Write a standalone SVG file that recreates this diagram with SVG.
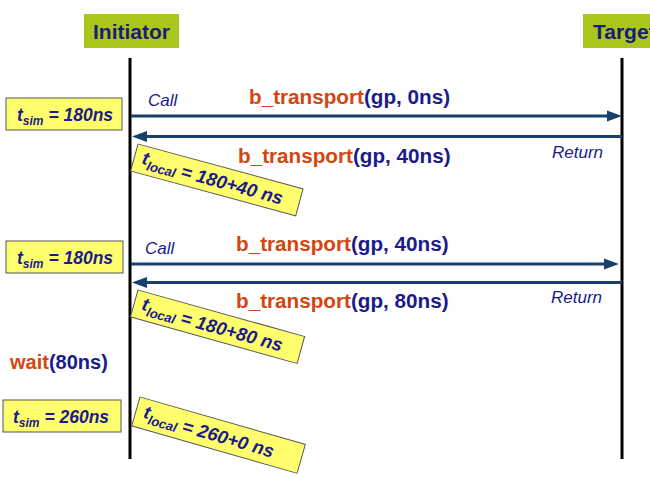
<svg xmlns="http://www.w3.org/2000/svg" width="650" height="478" viewBox="0 0 650 478">
<style>
.hdr{fill:#a9c61b}
.hl{font-family:"Liberation Sans",Arial,sans-serif;font-weight:bold;font-size:21px;fill:#1b1b7a}
.life{stroke:#000;stroke-width:3}
.msg{stroke:#17406d;stroke-width:3}
.head{fill:#17406d}
.fn{font-family:"Liberation Sans",Arial,sans-serif;font-weight:bold;font-size:20.7px}
.or{fill:#d2470f}
.nv{fill:#1b1b8a}
.it{font-family:"Liberation Sans",Arial,sans-serif;font-style:italic;font-size:17px;fill:#1b1b8a}
.note{fill:#ffff6e;stroke:#555;stroke-width:1}
.nt{font-family:"Liberation Sans",Arial,sans-serif;font-style:italic;font-weight:bold;font-size:17.5px;fill:#1b1b8a}
.lt{font-family:"Liberation Sans",Arial,sans-serif;font-style:italic;font-weight:bold;font-size:18.5px;fill:#1b1b8a}
.sub{font-size:12px}
.lsub{font-size:13px}
</style>
<rect width="650" height="478" fill="#fff"/>
<g id="initiator">
<rect class="hdr" x="84" y="14" width="95" height="34"/>
<text class="hl" x="131.5" y="39" text-anchor="middle">Initiator</text>
<line class="life" x1="130" y1="58" x2="130" y2="459"/>
</g>
<g id="target">
<rect class="hdr" x="583" y="14" width="70" height="34"/>
<text class="hl" x="593" y="39">Target</text>
<line class="life" x1="622" y1="58" x2="622" y2="459"/>
</g>
<g id="connectors">
<line class="msg" x1="131" y1="116" x2="610" y2="116"/>
<polygon class="head" points="622,116 607,110.5 607,121.5"/>
<line class="msg" x1="622" y1="136.5" x2="144" y2="136.5"/>
<polygon class="head" points="132,136.5 147,131 147,142"/>
<line class="msg" x1="131" y1="264" x2="606" y2="264"/>
<polygon class="head" points="619,264 604,258.5 604,269.5"/>
<line class="msg" x1="622" y1="282.5" x2="144" y2="282.5"/>
<polygon class="head" points="132,282.5 147,277 147,288"/>
</g>
<g id="labels">
<text class="it" x="148" y="106">Call</text>
<text class="fn" x="249" y="104"><tspan class="or">b_transport</tspan><tspan class="nv">(gp, 0ns)</tspan></text>
<text class="fn" x="238" y="163"><tspan class="or">b_transport</tspan><tspan class="nv">(gp, 40ns)</tspan></text>
<text class="it" x="552" y="158">Return</text>
<text class="it" x="145" y="254">Call</text>
<text class="fn" x="236" y="251"><tspan class="or">b_transport</tspan><tspan class="nv">(gp, 40ns)</tspan></text>
<text class="fn" x="236" y="308"><tspan class="or">b_transport</tspan><tspan class="nv">(gp, 80ns)</tspan></text>
<text class="it" x="551" y="303">Return</text>
<text class="fn" x="10" y="369" style="font-size:20px"><tspan class="or">wait</tspan><tspan class="nv">(80ns)</tspan></text>
</g>
<g id="tsim1">
<rect class="note" x="6" y="98" width="116" height="32"/>
<text class="nt" x="17" y="121">t<tspan class="sub" dy="4">sim</tspan><tspan dy="-4"> = 180ns</tspan></text>
</g>
<g id="tsim2">
<rect class="note" x="6" y="241" width="117" height="32"/>
<text class="nt" x="17" y="264">t<tspan class="sub" dy="4">sim</tspan><tspan dy="-4"> = 180ns</tspan></text>
</g>
<g id="tsim3">
<rect class="note" x="3" y="400" width="118" height="32"/>
<text class="nt" x="13" y="423">t<tspan class="sub" dy="4">sim</tspan><tspan dy="-4"> = 260ns</tspan></text>
</g>
<g id="tlocal1" transform="translate(138,144) rotate(15.2)">
<rect class="note" x="0" y="0" width="171" height="28"/>
<text class="lt" x="8" y="18">t<tspan class="lsub" dy="5">local</tspan><tspan dy="-2"> = 180+40 ns</tspan></text>
</g>
<g id="tlocal2" transform="translate(138,290) rotate(15.6)">
<rect class="note" x="0" y="0" width="173" height="28"/>
<text class="lt" x="8" y="18">t<tspan class="lsub" dy="5">local</tspan><tspan dy="-2"> = 180+80 ns</tspan></text>
</g>
<g id="tlocal3" transform="translate(140,397) rotate(16)">
<rect class="note" x="0" y="0" width="172" height="30"/>
<text class="lt" x="8" y="19">t<tspan class="lsub" dy="5">local</tspan><tspan dy="-2"> = 260+0 ns</tspan></text>
</g>
</svg>
